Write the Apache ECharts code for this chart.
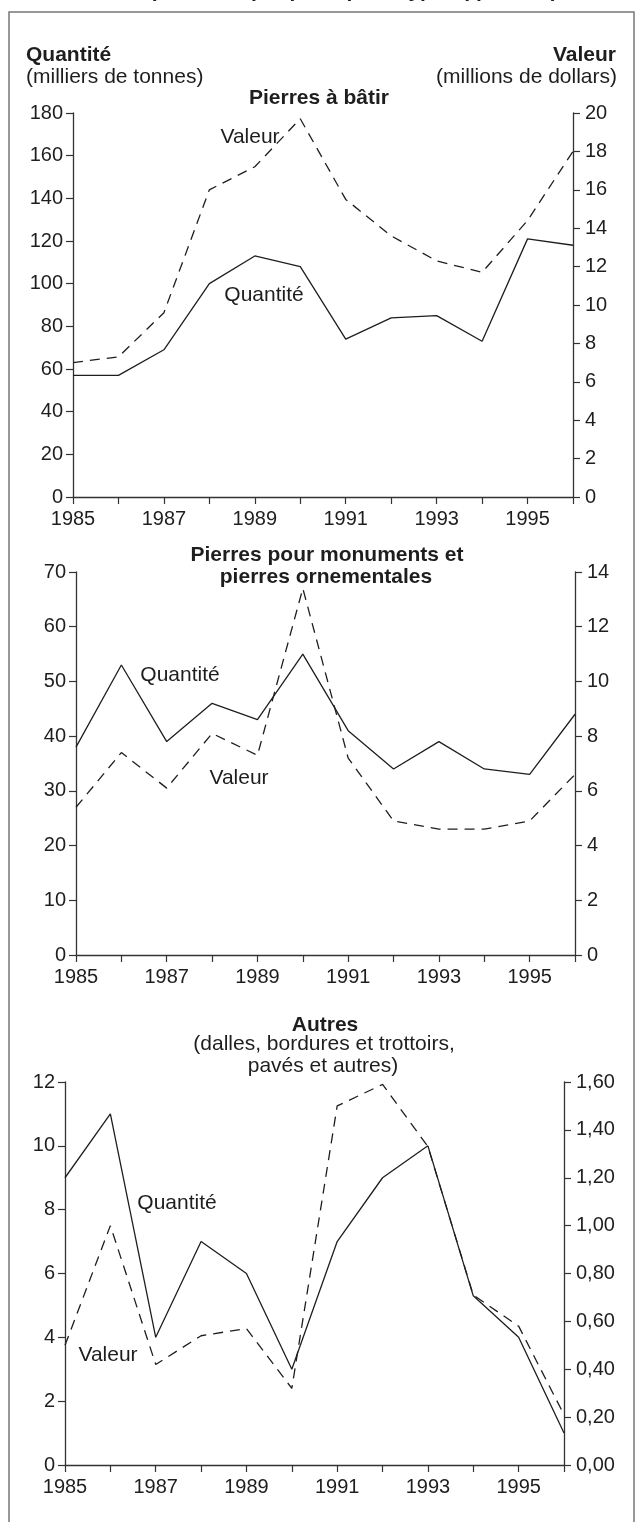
<!DOCTYPE html>
<html style="height: 100%">
	<head>
		<meta charset="utf-8">
	</head>
	<body style="height: 100%; margin: 0; background: #fff">
		<div id="container" style="width: 636px; height: 1522px"></div>
		<script type="text/javascript" src="https://cdn.jsdelivr.net/npm/echarts@6/dist/echarts.min.js"></script>
		<script type="text/javascript">
			var years = ['1985', '1986', '1987', '1988', '1989', '1990', '1991', '1992', '1993', '1994', '1995', '1996'];

			// Pierres à bâtir
			var quantiteBatir = [57, 57, 69, 100, 113, 108, 74, 84, 85, 73, 121, 118];
			var valeurBatir = [7.0, 7.3, 9.6, 16.0, 17.2, 19.7, 15.5, 13.6, 12.3, 11.7, 14.4, 18.0];

			// Pierres pour monuments et pierres ornementales
			var quantiteMonuments = [38, 53, 39, 46, 43, 55, 41, 34, 39, 34, 33, 44];
			var valeurMonuments = [5.4, 7.4, 6.1, 8.1, 7.3, 13.4, 7.2, 4.9, 4.6, 4.6, 4.9, 6.6];

			// Autres
			var quantiteAutres = [9, 11, 4, 7, 6, 3, 7, 9, 10, 5.3, 4, 1];
			var valeurAutres = [0.50, 1.00, 0.42, 0.54, 0.57, 0.32, 1.50, 1.59, 1.33, 0.71, 0.58, 0.21];

			var FONT = '"Liberation Sans", Arial, Helvetica, sans-serif';
			var INK = '#1e1e1e';

			var dom = document.getElementById("container");
			var myChart = echarts.init(dom);
			var option;

			function xAxisFor(gridIndex) {
				return {
					type: 'category',
					gridIndex: gridIndex,
					data: years,
					boundaryGap: false,
					axisLine: { lineStyle: { color: '#333', width: 1.3 } },
					axisTick: { interval: 0, length: 7, lineStyle: { color: '#333', width: 1.2 } },
					axisLabel: { interval: 1, margin: 12, fontSize: 20, fontFamily: FONT, color: INK },
					splitLine: { show: false }
				};
			}

			function yAxisFor(gridIndex, position, max, interval, formatter) {
				return {
					type: 'value',
					gridIndex: gridIndex,
					position: position,
					min: 0,
					max: max,
					interval: interval,
					axisLine: { show: true, lineStyle: { color: '#333', width: 1.3 } },
					axisTick: { show: true, length: 7, lineStyle: { color: '#333', width: 1.2 } },
					axisLabel: { margin: position === 'left' ? 10 : 12, fontSize: 20, fontFamily: FONT, color: INK, formatter: formatter },
					splitLine: { show: false }
				};
			}

			function lineSeries(data, xi, yi, dashed) {
				return {
					type: 'line',
					xAxisIndex: xi,
					yAxisIndex: yi,
					data: data,
					symbol: 'none',
					silent: true,
					lineStyle: { color: INK, width: 1.3, type: dashed ? [10, 7] : 'solid' }
				};
			}

			function label(text, x, y, align, bold) {
				return {
					type: 'text',
					x: x,
					y: y,
					silent: true,
					style: {
						text: text,
						font: (bold ? 'bold ' : '') + '21px ' + FONT,
						fill: INK,
						textAlign: align,
						textVerticalAlign: 'middle'
					}
				};
			}

			var commaFmt = function(v) {
				return v.toFixed(2).replace('.', ',');
			};

			option = {
				animation: false,
				backgroundColor: '#fff',
				grid: [
					{ left: 73, right: 63, top: 113, height: 384 },
					{ left: 76, right: 61, top: 572, height: 383 },
					{ left: 65, right: 72, top: 1082, height: 383 }
				],
				xAxis: [xAxisFor(0), xAxisFor(1), xAxisFor(2)],
				yAxis: [
					yAxisFor(0, 'left', 180, 20),
					yAxisFor(0, 'right', 20, 2),
					yAxisFor(1, 'left', 70, 10),
					yAxisFor(1, 'right', 14, 2),
					yAxisFor(2, 'left', 12, 2),
					yAxisFor(2, 'right', 1.6, 0.2, commaFmt)
				],
				series: [
					lineSeries(quantiteBatir, 0, 0, false),
					lineSeries(valeurBatir, 0, 1, true),
					lineSeries(quantiteMonuments, 1, 2, false),
					lineSeries(valeurMonuments, 1, 3, true),
					lineSeries(quantiteAutres, 2, 4, false),
					lineSeries(valeurAutres, 2, 5, true)
				],
				graphic: [
					{
						type: 'rect',
						silent: true,
						shape: { x: 9, y: 12, width: 625, height: 1530 },
						style: { fill: 'none', stroke: '#777', lineWidth: 1.5 }
					},
					label('Pierre de taille : expéditions par principaux types (quantité), 1985-1996', 318, -9, 'center', true),
					label('Quantité', 26, 55.5, 'left', true),
					label('(milliers de tonnes)', 26, 77, 'left', false),
					label('Valeur', 616, 55.5, 'right', true),
					label('(millions de dollars)', 617, 77, 'right', false),
					label('Pierres à bâtir', 319, 98.5, 'center', true),
					label('Valeur', 250, 137.5, 'center', false),
					label('Quantité', 264, 295.5, 'center', false),

					label('Pierres pour monuments et', 327, 555.5, 'center', true),
					label('pierres ornementales', 326, 577.5, 'center', true),
					label('Quantité', 180, 675.5, 'center', false),
					label('Valeur', 239, 778.5, 'center', false),

					label('Autres', 325, 1025.5, 'center', true),
					label('(dalles, bordures et trottoirs,', 324, 1044, 'center', false),
					label('pavés et autres)', 323, 1066, 'center', false),
					label('Quantité', 177, 1203.5, 'center', false),
					label('Valeur', 108, 1355.5, 'center', false)
				]
			};

			if (option && typeof option === 'object') {
				myChart.setOption(option);
			}
		</script>
	</body>
</html>
